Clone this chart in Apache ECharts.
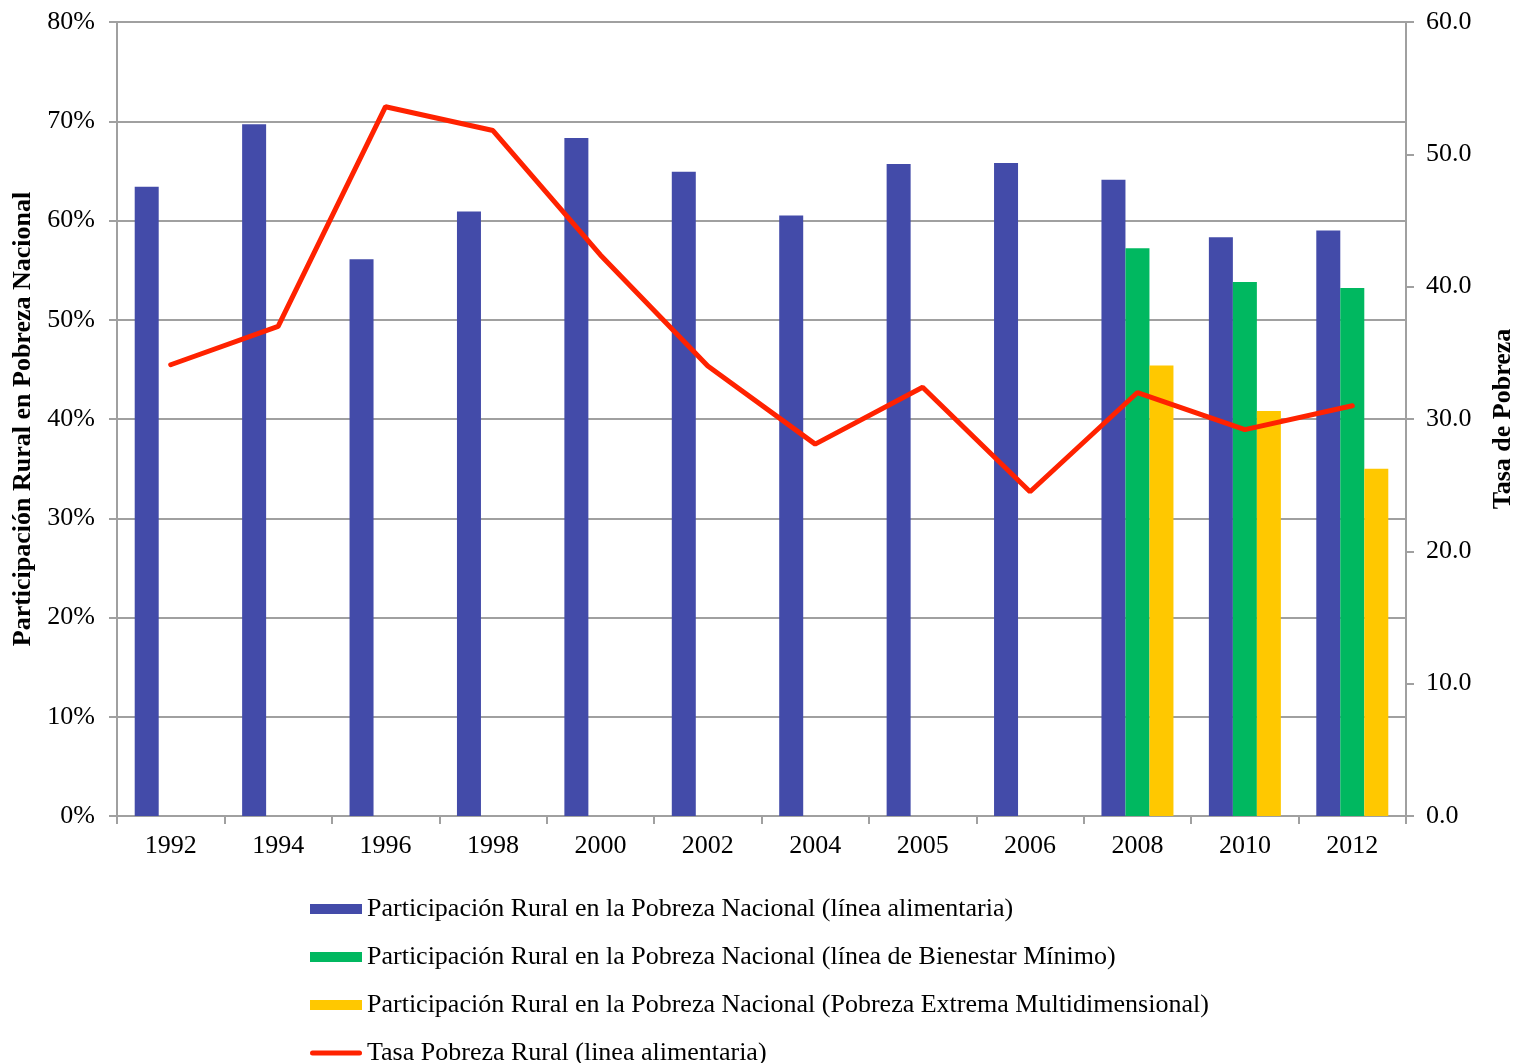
<!DOCTYPE html>
<html>
<head>
<meta charset="utf-8">
<script src="https://cdn.jsdelivr.net/npm/echarts@6/dist/echarts.min.js"></script>
<style>
  html, body { margin: 0; padding: 0; background: #fff; }
  #main { width: 1515px; height: 1063px; }
</style>
</head>
<body>
<div id="main"></div>
<script>
// categories and values
var years = ["1992", "1994", "1996", "1998", "2000", "2002", "2004", "2005", "2006", "2008", "2010", "2012"];
var partAlimentaria = [63.4, 69.7, 56.1, 60.9, 68.3, 64.9, 60.5, 65.7, 65.8, 64.1, 58.3, 59.0];
var partBienestar = [null, null, null, null, null, null, null, null, null, 57.2, 53.8, 53.2];
var partMultidim = [null, null, null, null, null, null, null, null, null, 45.4, 40.8, 35.0];
var tasaRural = [34.1, 37.0, 53.6, 51.8, 42.4, 34.0, 28.1, 32.4, 24.5, 32.0, 29.2, 31.0];

var serif = "Liberation Serif";
var gris = "#a0a0a0";

var myChart = echarts.init(document.getElementById("main"));

var option = {
  animation: false,
  textStyle: { fontFamily: serif, color: "#000" },
  grid: { left: 117, right: 109, top: 22, bottom: 247, containLabel: false, outerBoundsMode: "none" },
  legend: {
    orient: "vertical",
    left: 305,
    top: 891,
    height: 200,
    itemWidth: 52,
    itemHeight: 10,
    itemGap: 22,
    symbolKeepAspect: true,
    textStyle: { fontFamily: serif, fontSize: 26, color: "#000", lineHeight: 26 },
    data: [
      { name: "Participación Rural en la Pobreza Nacional (línea alimentaria)", icon: "rect" },
      { name: "Participación Rural en la Pobreza Nacional (línea de Bienestar Mínimo)", icon: "rect" },
      { name: "Participación Rural en la Pobreza Nacional (Pobreza Extrema Multidimensional)", icon: "rect" },
      {
        name: "Tasa Pobreza Rural (linea alimentaria)",
        icon: "path://M2.5,0 L49.5,0 A2.5,2.5 0 0 1 49.5,5 L2.5,5 A2.5,2.5 0 0 1 2.5,0 Z"
      }
    ]
  },
  xAxis: {
    type: "category",
    data: years,
    axisLine: { lineStyle: { color: gris, width: 2 } },
    axisTick: { show: true, length: 8, lineStyle: { color: gris, width: 2 } },
    axisLabel: { fontFamily: serif, fontSize: 26, color: "#000", margin: 17 }
  },
  yAxis: [
    {
      type: "value",
      min: 0,
      max: 80,
      interval: 10,
      name: "Participación Rural en Pobreza Nacional",
      nameLocation: "middle",
      nameRotate: 90,
      nameGap: 79,
      nameTextStyle: { fontFamily: serif, fontSize: 26, fontWeight: "bold", color: "#000" },
      axisLine: { show: true, lineStyle: { color: gris, width: 2 } },
      axisTick: { show: true, length: 8, lineStyle: { color: gris, width: 2 } },
      splitLine: { lineStyle: { color: gris, width: 2 } },
      axisLabel: { fontFamily: serif, fontSize: 26, color: "#000", margin: 22, formatter: "{value}%" }
    },
    {
      type: "value",
      min: 0,
      max: 60,
      interval: 10,
      name: "Tasa de Pobreza",
      nameLocation: "middle",
      nameRotate: 90,
      nameGap: 84,
      nameTextStyle: { fontFamily: serif, fontSize: 26, fontWeight: "bold", color: "#000" },
      axisLine: { show: true, lineStyle: { color: gris, width: 2 } },
      axisTick: { show: true, length: 8, lineStyle: { color: gris, width: 2 } },
      splitLine: { show: false },
      axisLabel: {
        fontFamily: serif, fontSize: 26, color: "#000", margin: 20,
        formatter: function (v) { return v.toFixed(1); }
      }
    }
  ],
  series: [
    {
      name: "Participación Rural en la Pobreza Nacional (línea alimentaria)",
      type: "bar",
      data: partAlimentaria,
      barWidth: 24,
      barGap: "0%",
      itemStyle: { color: "#434ba9" }
    },
    {
      name: "Participación Rural en la Pobreza Nacional (línea de Bienestar Mínimo)",
      type: "bar",
      data: partBienestar,
      barWidth: 24,
      barGap: "0%",
      itemStyle: { color: "#00b860" }
    },
    {
      name: "Participación Rural en la Pobreza Nacional (Pobreza Extrema Multidimensional)",
      type: "bar",
      data: partMultidim,
      barWidth: 24,
      barGap: "0%",
      itemStyle: { color: "#ffc800" }
    },
    {
      name: "Tasa Pobreza Rural (linea alimentaria)",
      type: "line",
      yAxisIndex: 1,
      data: tasaRural,
      symbol: "none",
      itemStyle: { color: "#ff2200" },
      lineStyle: { color: "#ff2200", width: 5, cap: "round" },
      z: 5
    }
  ]
};

myChart.setOption(option);
</script>
</body>
</html>
